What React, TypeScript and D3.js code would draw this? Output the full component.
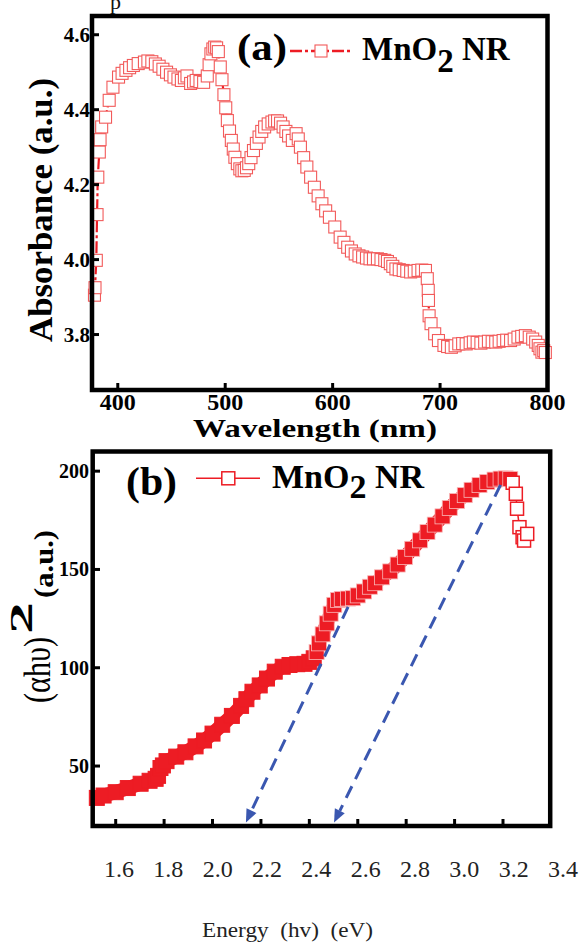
import React from 'react';
import * as d3 from 'd3';

// Panel (a): UV-vis absorbance spectrum of MnO2 nanorods
const wavelengthNm = [
  378.3, 378.8, 380.0, 380.7, 381.4, 382.8, 383.5, 385.0, 388.6, 392.0, 395.5, 400.7, 404, 407.6, 411, 414.5,
  419, 424.8, 428, 431.7, 435, 438.5, 442, 445.4, 449, 452.3, 456, 459.2, 462, 464.4, 467.8, 470.5, 473, 476.5,
  479.9, 483.3, 485, 486.7, 488.5, 490.2, 492, 493.6, 495.4, 497, 498.8, 500.5, 502, 504, 505.7, 507.5, 509,
  511.3, 513.6, 515.5, 517.7, 519.8, 521.9, 524, 526.3, 529, 531.5, 534, 536.7, 540, 543.5, 546, 548.7, 551.5,
  553.9, 556.5, 559, 562.5, 566, 568, 570, 573, 576, 579.5, 583, 586.5, 590, 593.5, 597, 602, 607, 610.5, 614,
  617.5, 621, 624.5, 627.9, 631.5, 634.8, 638, 641.7, 645, 648.5, 651, 653.7, 656, 658.9, 662, 665.7, 669,
  672.6, 676, 679.5, 683, 686.4, 688.1, 689, 689.2, 689.8, 691.6, 695, 698.5, 703.6, 707, 710.5, 714, 717.4,
  721, 724.3, 728, 731, 734.5, 738, 741.5, 745, 748.5, 751.8, 755, 758.7, 762, 765.6, 769, 772.5, 776, 779.4,
  783, 786.2, 789, 791.4, 793, 794.8, 796.5, 798,
];
const absorbance = [
  3.905, 3.925, 3.998, 4.12, 4.22, 4.287, 4.32, 4.354, 4.38, 4.425, 4.46, 4.487, 4.497, 4.505, 4.512, 4.518,
  4.523, 4.527, 4.53, 4.528, 4.522, 4.516, 4.508, 4.5, 4.493, 4.487, 4.482, 4.478, 4.485, 4.49, 4.47, 4.474,
  4.478, 4.475, 4.473, 4.49, 4.52, 4.549, 4.562, 4.567, 4.565, 4.555, 4.514, 4.48, 4.44, 4.405, 4.371, 4.343,
  4.318, 4.295, 4.273, 4.256, 4.242, 4.237, 4.238, 4.245, 4.256, 4.272, 4.291, 4.31, 4.327, 4.342, 4.354,
  4.362, 4.367, 4.37, 4.37, 4.364, 4.354, 4.342, 4.33, 4.318, 4.336, 4.322, 4.3, 4.272, 4.247, 4.22, 4.193,
  4.17, 4.149, 4.13, 4.113, 4.087, 4.06, 4.046, 4.033, 4.023, 4.015, 4.01, 4.007, 4.004, 4.002, 4.002, 4.002,
  4.0, 3.998, 3.995, 3.989, 3.982, 3.975, 3.973, 3.971, 3.969, 3.967, 3.969, 3.971, 3.972, 3.971, 3.949, 3.918,
  3.891, 3.85, 3.829, 3.802, 3.784, 3.771, 3.768, 3.766, 3.77, 3.775, 3.776, 3.775, 3.778, 3.78, 3.779, 3.777,
  3.78, 3.782, 3.781, 3.78, 3.782, 3.784, 3.785, 3.784, 3.788, 3.793, 3.795, 3.797, 3.793, 3.788, 3.78, 3.771,
  3.762, 3.753, 3.757, 3.752,
];
const nmTicks = [400, 500, 600, 700, 800];
const absTicks = [3.8, 4.0, 4.2, 4.4, 4.6];

// Panel (b): Tauc plot
const energyEv = [
  1.522, 1.55, 1.6, 1.65, 1.703, 1.74, 1.765, 1.775, 1.785, 1.795, 1.81, 1.85, 1.888, 1.93, 1.965, 2.0, 2.04,
  2.08, 2.118, 2.14, 2.165, 2.195, 2.225, 2.257, 2.29, 2.318, 2.35, 2.38, 2.4, 2.418, 2.43, 2.44, 2.455, 2.472,
  2.488, 2.503, 2.518, 2.534, 2.56, 2.58, 2.6, 2.626, 2.65, 2.672, 2.7, 2.734, 2.765, 2.795, 2.825, 2.857,
  2.888, 2.918, 2.95, 2.98, 3.01, 3.042, 3.07, 3.103, 3.135, 3.165, 3.19, 3.211, 3.23, 3.24, 3.253, 3.258,
  3.268, 3.281, 3.287, 3.3,
];
const tauc = [
  33.8, 35, 36.7, 38.8, 41, 42.5, 43.5, 45, 49, 50.3, 52.5, 54.8, 57, 60, 63, 66.5, 71, 75.5, 80.6, 84, 87.8,
  91, 94.5, 98, 100.5, 101.4, 101.8, 102, 103, 104.8, 108, 112.4, 117, 122.6, 127.5, 132, 134.5, 135, 135.2,
  135.4, 136.8, 138.8, 141.2, 143, 146, 149, 152.5, 156.3, 160.5, 164.8, 169, 172.8, 177, 181.3, 184.8, 187.8,
  190.5, 192.9, 194.5, 195.7, 196.2, 196.3, 196, 194.1, 188.5, 180.9, 171.5, 166.4, 164.7, 168.1,
];
const evTicks = [1.6, 1.8, 2.0, 2.2, 2.4, 2.6, 2.8, 3.0, 3.2];
const evLabels = ['1.6', '1.8', '2.0', '2.2', '2.4', '2.6', '2.8', '3.0', '3.2', '3.4'];
const taucTicks = [50, 100, 150, 200];

// Extrapolation arrows: start (eV, value) -> tip (eV, value)
const arrowStartEv = [2.56, 3.19];
const arrowStartVal = [131, 193];
const arrowTipEv = [2.138, 2.502];
const arrowTipVal = [21.3, 21.3];

const SERIF = '"Liberation Serif", "Times New Roman", serif';
const RED = '#ed1c24';
const MARK_A = '#f25a5a';
const BLUE = '#3a57b0';

export default function App() {
  // ---- panel (a) scales
  const xa = d3.scaleLinear().domain([376, 800]).range([92, 547.5]);
  const ya = d3.scaleLinear().domain([3.652, 4.65]).range([390, 16]);
  const ptsA = wavelengthNm.map((w, i) => ({ w, a: absorbance[i] }));
  const lineA = d3.line<{ w: number; a: number }>().x((d) => xa(d.w)).y((d) => ya(d.a));

  // ---- panel (b) scales
  const xb = d3.scaleLinear().domain([1.505, 3.395]).range([92.7, 550.2]);
  const yb = d3.scaleLinear().domain([19.5, 210]).range([826, 451.5]);
  const xbLabel = d3.scaleLinear().domain([1.6, 3.4]).range([119, 563]);
  const ptsB = energyEv.map((e, i) => ({ e, v: tauc[i] }));
  const bandEnd = 3.232;
  const band = ptsB.filter((p) => p.e <= bandEnd);
  const tail = ptsB.filter((p) => p.e >= 3.211);
  const lineB = d3.line<{ e: number; v: number }>().x((d) => xb(d.e)).y((d) => yb(d.v));

  const sqA = 12;
  const sqB = 15;

  const arrows = arrowStartEv.map((e0, i) => {
    const x0 = xb(e0), y0 = yb(arrowStartVal[i]);
    const x1 = xb(arrowTipEv[i]), y1 = yb(arrowTipVal[i]);
    const len = Math.hypot(x1 - x0, y1 - y0);
    const ux = (x1 - x0) / len, uy = (y1 - y0) / len;
    const hl = 13, hw = 5.5;
    const bx = x1 - ux * hl, by = y1 - uy * hl;
    const head = `M${x1},${y1}L${bx - uy * hw},${by + ux * hw}L${bx + uy * hw},${by - ux * hw}Z`;
    return { x0, y0, bx, by, head };
  });

  return (
    <svg width={582} height={944} style={{ position: 'absolute', left: 0, top: 0, background: '#fff' }}>
      <rect x={0} y={0} width={582} height={944} fill="#fff" />
      <text x={110} y={9} fontFamily={SERIF} fontSize={22} fill="#111">p</text>

      {/* ================= panel (a) ================= */}
      <path d={lineA(ptsA) || ''} fill="none" stroke={RED} strokeWidth={2.2} strokeDasharray="12,3,3,3" />
      {ptsA.map((p, i) => (
        <rect key={i} x={xa(p.w) - sqA / 2} y={ya(p.a) - sqA / 2} width={sqA} height={sqA}
          fill="#fff" stroke={MARK_A} strokeWidth={1.1} />
      ))}
      <rect x={92} y={16} width={455.5} height={374} fill="none" stroke="#000" strokeWidth={4.5} />
      {nmTicks.slice(0, 4).map((t) => (
        <line key={t} x1={xa(t)} x2={xa(t)} y1={390} y2={383} stroke="#000" strokeWidth={3} />
      ))}
      {absTicks.map((t) => (
        <line key={t} x1={92} x2={99} y1={ya(t)} y2={ya(t)} stroke="#000" strokeWidth={3} />
      ))}
      {nmTicks.map((t) => (
        <text key={t} x={xa(t)} y={410} textAnchor="middle" fontFamily={SERIF} fontWeight="bold" fontSize={24}>{t}</text>
      ))}
      {absTicks.map((t) => (
        <text key={t} x={90} y={ya(t) + 7} textAnchor="end" fontFamily={SERIF} fontWeight="bold" fontSize={21}>{t.toFixed(1)}</text>
      ))}
      <text x={315} y={437} textAnchor="middle" fontFamily={SERIF} fontWeight="bold" fontSize={26}
        textLength={244} lengthAdjust="spacingAndGlyphs">Wavelength (nm)</text>
      <text transform="translate(52,210) rotate(-90)" textAnchor="middle" fontFamily={SERIF} fontWeight="bold"
        fontSize={33} textLength={264} lengthAdjust="spacingAndGlyphs">Absorbance (a.u.)</text>

      {/* legend (a) */}
      <text x={237} y={60} fontFamily={SERIF} fontWeight="bold" fontSize={37} textLength={50} lengthAdjust="spacingAndGlyphs">(a)</text>
      <line x1={290} x2={352} y1={51} y2={51} stroke={RED} strokeWidth={2.5} strokeDasharray="12,3,3,3" />
      <rect x={321 - 6} y={51 - 6} width={12} height={12} fill="#fff" stroke={MARK_A} strokeWidth={1.1} />
      <text x={362} y={60} fontFamily={SERIF} fontWeight="bold" fontSize={33}>
        MnO<tspan dy={12}>2</tspan><tspan dy={-12}> NR</tspan>
      </text>

      {/* ================= panel (b) ================= */}
      <path d={lineB(band) || ''} fill="none" stroke={RED} strokeWidth={14} strokeLinejoin="round" strokeLinecap="round" />
      {band.map((p, i) => (
        <rect key={i} x={xb(p.e) - sqB / 2} y={yb(p.v) - sqB / 2} width={sqB} height={sqB}
          fill={RED} stroke={p.e > 2.42 ? '#f9b8b8' : RED} strokeWidth={p.e > 2.42 ? 0.8 : 1} />
      ))}
      <path d={lineB(tail) || ''} fill="none" stroke={RED} strokeWidth={1.5} />
      {tail.filter((p) => p.e > bandEnd).map((p, i) => (
        <rect key={i} x={xb(p.e) - 6.5} y={yb(p.v) - 6.5} width={13} height={13}
          fill="#fff" stroke={RED} strokeWidth={1.5} />
      ))}
      {arrows.map((a, i) => (
        <g key={i}>
          <line x1={a.x0} y1={a.y0} x2={a.bx} y2={a.by} stroke={BLUE} strokeWidth={3} strokeDasharray="13,8" />
          <path d={a.head} fill={BLUE} />
        </g>
      ))}
      <rect x={92.7} y={451.5} width={457.5} height={374.5} fill="none" stroke="#000" strokeWidth={4.5} />
      {evTicks.map((t) => (
        <line key={t} x1={xb(t)} x2={xb(t)} y1={826} y2={819} stroke="#000" strokeWidth={3} />
      ))}
      {taucTicks.map((t) => (
        <line key={t} x1={92.7} x2={100} y1={yb(t)} y2={yb(t)} stroke="#000" strokeWidth={3} />
      ))}
      {evLabels.map((t) => (
        <text key={t} x={xbLabel(+t)} y={877} textAnchor="middle" fontFamily={SERIF} fontSize={24} fill="#222">{t}</text>
      ))}
      {taucTicks.map((t) => (
        <text key={t} x={89} y={yb(t) + 7} textAnchor="end" fontFamily={SERIF} fontWeight="bold" fontSize={20}>{t}</text>
      ))}
      <text x={202} y={937} fontFamily={SERIF} fontSize={21} fill="#222" style={{ whiteSpace: 'pre' }}
        textLength={171} lengthAdjust="spacingAndGlyphs">{'Energy  (hv)  (eV)'}</text>
      <g transform="translate(50,703) rotate(-90)">
        <text x={0} y={0} fontFamily={SERIF} fontSize={37} textLength={66} lengthAdjust="spacingAndGlyphs">(αhυ)</text>
        <text x={69} y={-18} fontFamily={SERIF} fontWeight="bold" fontSize={32} textLength={32} lengthAdjust="spacingAndGlyphs">2</text>
        <text x={105} y={3} fontFamily={SERIF} fontWeight="bold" fontSize={27} textLength={68} lengthAdjust="spacingAndGlyphs">(a.u.)</text>
      </g>

      {/* legend (b) */}
      <text x={126} y={495} fontFamily={SERIF} fontWeight="bold" fontSize={40} textLength={51} lengthAdjust="spacingAndGlyphs">(b)</text>
      <line x1={196} x2={260} y1={478.3} y2={478.3} stroke={RED} strokeWidth={1.5} />
      <rect x={228.3 - 6.5} y={478.3 - 6.5} width={13} height={13} fill="#fff" stroke={RED} strokeWidth={1.5} />
      <text x={272} y={488} fontFamily={SERIF} fontWeight="bold" fontSize={34}>
        MnO<tspan dy={10}>2</tspan><tspan dy={-10}> NR</tspan>
      </text>
    </svg>
  );
}
